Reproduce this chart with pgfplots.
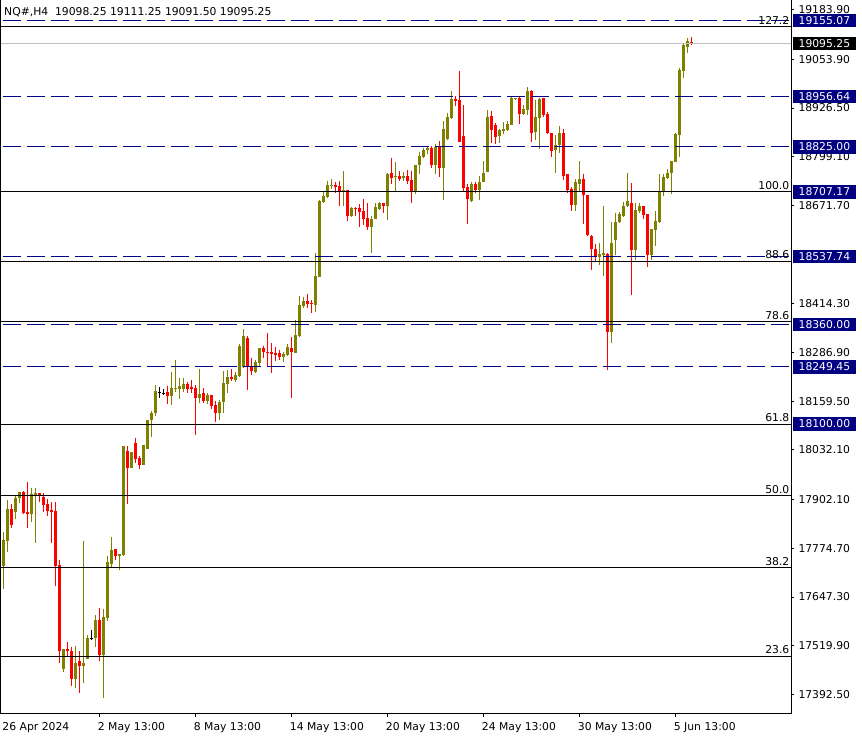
\documentclass[border=0pt]{standalone}
\usepackage{pgfplots}
\pgfplotsset{compat=1.18}
\usepackage{pgfplotstable}
\usepackage{fontspec}
\setmainfont{DejaVu Sans}
\definecolor{mtnavy}{RGB}{0,0,128}
\definecolor{mtolive}{RGB}{128,128,0}
\definecolor{mtred}{RGB}{255,0,0}
\definecolor{mtgrey}{RGB}{192,192,192}

\pgfplotstableread{
i o h l c d
0 17727.4 17818.4 17668.5 17796.8 1
1 17795.0 17900.9 17766.4 17877.5 1
2 17877.5 17890.5 17828.8 17835.8 -1
3 17870.5 17913.9 17851.5 17906.1 1
4 17905.3 17923.0 17892.3 17921.7 1
5 17921.7 17924.0 17864.5 17867.9 -1
6 17869.7 17947.0 17828.8 17865.3 -1
7 17865.3 17932.1 17844.4 17916.5 1
8 17913.9 17932.1 17789.8 17919.1 1
9 17919.1 17920.0 17895.7 17911.3 -1
10 17909.5 17919.1 17870.5 17888.7 -1
11 17890.5 17904.3 17860.1 17873.1 -1
12 17874.9 17895.7 17789.8 17869.7 -1
13 17872.3 17895.7 17675.3 17729.2 -1
14 17730.3 17743.3 17476.1 17506.5 -1
15 17459.7 17511.7 17451.9 17511.7 1
16 17511.7 17529.9 17490.9 17506.5 -1
17 17506.5 17516.9 17415.4 17433.6 -1
18 17433.6 17519.5 17410.2 17475.3 1
19 17480.5 17506.5 17397.2 17467.5 -1
20 17467.5 17792.7 17423.2 17475.3 1
21 17485.7 17548.1 17485.7 17540.3 1
22 17539.5 17561.1 17535.1 17539.5 0
23 17540.3 17600.2 17516.9 17587.2 1
24 17587.2 17618.4 17480.5 17496.1 -1
25 17496.1 17615.8 17384.2 17595.0 1
26 17592.4 17753.7 17585.4 17738.1 1
27 17732.9 17805.7 17722.5 17769.3 1
28 17771.9 17771.9 17743.3 17753.7 -1
29 17753.7 17758.9 17717.3 17758.9 1
30 17758.3 18041.9 17755.0 18041.9 1
31 18028.9 18041.9 17891.8 17985.5 -1
32 17985.5 18026.3 17985.5 18026.3 1
33 18049.7 18062.7 17998.5 18008.9 -1
34 18010.7 18015.9 17982.8 17993.2 -1
35 17993.2 18044.5 17993.2 18044.5 1
36 18034.9 18109.6 18034.9 18109.6 1
37 18109.6 18133.0 18066.1 18127.8 1
38 18127.5 18202.1 18121.5 18186.5 1
39 18183.1 18196.9 18169.1 18183.1 0
40 18180.5 18190.9 18176.1 18180.5 0
41 18183.9 18199.5 18153.5 18174.3 -1
42 18174.3 18236.0 18150.9 18194.3 1
43 18191.7 18267.2 18183.9 18195.1 1
44 18191.7 18220.3 18166.5 18199.5 1
45 18191.7 18220.3 18184.7 18204.7 1
46 18205.5 18209.9 18181.3 18192.5 -1
47 18197.7 18215.1 18180.5 18191.7 -1
48 18194.3 18202.9 18072.0 18168.3 -1
49 18168.3 18243.8 18156.1 18178.7 1
50 18181.3 18194.3 18156.1 18160.5 -1
51 18160.5 18181.3 18152.7 18176.1 1
52 18176.1 18176.1 18138.9 18148.3 -1
53 18150.1 18160.5 18104.0 18129.3 -1
54 18129.3 18163.1 18111.1 18157.9 1
55 18157.9 18238.6 18129.3 18207.3 1
56 18204.7 18241.2 18181.3 18222.9 1
57 18222.2 18243.0 18213.3 18217.0 -1
58 18215.1 18236.0 18210.7 18228.1 1
59 18226.0 18309.3 18222.7 18304.1 1
60 18250.3 18348.3 18246.9 18330.1 1
61 18324.9 18330.1 18187.8 18250.3 -1
62 18250.3 18272.1 18229.4 18239.8 -1
63 18237.3 18266.9 18234.6 18261.7 1
64 18260.7 18298.9 18250.3 18298.9 1
65 18298.9 18304.1 18272.1 18288.5 -1
66 18288.5 18337.9 18250.3 18285.9 -1
67 18288.5 18311.9 18234.6 18284.1 -1
68 18286.7 18301.5 18265.1 18281.5 -1
69 18285.9 18293.7 18267.7 18275.5 -1
70 18275.5 18288.5 18262.5 18284.1 1
71 18280.7 18309.3 18278.1 18301.5 1
72 18298.9 18327.5 18168.8 18288.5 -1
73 18285.9 18371.8 18285.9 18332.7 1
74 18330.1 18434.2 18327.5 18410.8 1
75 18408.2 18431.6 18403.0 18421.2 1
76 18421.2 18439.4 18403.0 18413.4 -1
77 18416.8 18423.8 18390.8 18413.4 -1
78 18411.6 18546.1 18393.4 18486.2 1
79 18485.6 18686.0 18485.6 18683.4 1
80 18680.8 18706.8 18678.2 18696.4 1
81 18694.6 18736.2 18692.0 18725.0 1
82 18723.2 18740.6 18715.4 18725.0 1
83 18725.0 18732.8 18705.0 18719.8 -1
84 18722.4 18735.4 18671.2 18710.2 -1
85 18710.2 18761.5 18671.2 18712.8 1
86 18712.0 18712.0 18632.1 18645.1 -1
87 18645.1 18668.6 18642.5 18666.0 1
88 18666.0 18668.6 18645.1 18663.4 -1
89 18665.2 18676.4 18616.5 18655.6 -1
90 18657.4 18688.6 18621.7 18637.3 -1
91 18639.2 18678.2 18608.7 18616.5 -1
92 18616.5 18645.1 18546.3 18637.3 1
93 18637.3 18679.0 18637.3 18668.6 1
94 18663.4 18681.6 18659.2 18677.4 1
95 18677.4 18679.0 18653.0 18671.2 -1
96 18671.2 18757.0 18634.7 18754.4 1
97 18755.5 18795.3 18728.4 18744.0 -1
98 18745.8 18784.9 18710.2 18748.4 1
99 18748.4 18761.5 18736.2 18741.4 -1
100 18744.0 18758.9 18736.2 18748.4 1
101 18748.4 18764.1 18728.4 18736.2 -1
102 18738.0 18761.5 18679.0 18710.2 -1
103 18710.2 18776.3 18702.4 18776.3 1
104 18777.9 18810.9 18754.4 18800.5 1
105 18798.7 18821.3 18796.1 18816.1 1
106 18816.1 18826.5 18805.7 18821.3 1
107 18821.3 18826.5 18770.0 18777.9 -1
108 18777.9 18831.7 18754.4 18824.7 1
109 18824.7 18839.5 18746.6 18770.0 -1
110 18771.0 18892.6 18685.2 18871.7 1
111 18845.7 18913.4 18843.1 18903.0 1
112 18900.4 18970.6 18897.8 18949.8 1
113 18949.8 18957.6 18931.6 18944.6 -1
114 18947.2 19022.7 18838.7 18838.7 -1
115 18853.5 18934.2 18710.4 18716.4 -1
116 18719.0 18726.8 18622.7 18687.8 -1
117 18682.6 18733.8 18680.0 18727.9 1
118 18727.9 18732.0 18703.4 18711.2 -1
119 18711.2 18747.6 18686.2 18733.8 1
120 18732.0 18788.5 18732.0 18757.3 1
121 18758.0 18921.2 18758.0 18903.0 1
122 18905.6 18918.6 18836.1 18869.9 -1
123 18882.1 18887.4 18833.5 18851.7 -1
124 18854.3 18871.7 18836.1 18869.1 1
125 18866.5 18890.0 18858.7 18871.7 1
126 18869.1 18892.6 18866.5 18884.8 1
127 18882.9 18955.8 18882.9 18953.2 1
128 18949.8 18952.4 18947.2 18952.4 1
129 18952.4 18955.0 18885.5 18911.6 -1
130 18911.6 18934.2 18909.0 18923.8 1
131 18921.2 18981.0 18909.0 18970.6 1
132 18970.6 18973.2 18838.7 18862.1 -1
133 18864.7 18947.2 18843.9 18903.0 1
134 18901.1 18952.4 18820.5 18949.8 1
135 18952.4 18952.4 18903.7 18909.0 -1
136 18910.8 18916.0 18859.5 18862.1 -1
137 18861.3 18861.3 18799.7 18815.3 -1
138 18817.1 18856.9 18755.4 18830.9 1
139 18830.9 18879.5 18810.1 18862.1 1
140 18860.6 18871.7 18739.0 18747.6 -1
141 18754.2 18754.2 18704.8 18711.8 -1
142 18713.6 18718.8 18658.0 18673.6 -1
143 18673.6 18741.2 18658.0 18733.4 1
144 18728.2 18787.3 18710.0 18740.4 1
145 18741.2 18752.7 18624.1 18699.6 -1
146 18699.6 18699.6 18592.9 18595.5 -1
147 18592.9 18595.5 18501.8 18556.5 -1
148 18559.1 18570.5 18525.3 18535.7 -1
149 18535.7 18573.9 18514.9 18543.5 1
150 18540.9 18670.2 18486.2 18546.1 1
151 18544.0 18547.4 18242.2 18341.8 -1
152 18341.8 18627.3 18310.6 18572.6 1
153 18580.1 18652.2 18541.1 18628.8 1
154 18628.8 18654.8 18626.9 18649.6 1
155 18645.1 18680.8 18642.5 18670.4 1
156 18669.6 18756.3 18667.8 18683.4 1
157 18678.2 18730.2 18436.2 18555.9 -1
158 18555.9 18676.9 18529.9 18660.0 1
159 18657.4 18678.2 18652.2 18670.4 1
160 18670.4 18670.4 18636.6 18647.0 -1
161 18649.6 18649.6 18511.7 18542.9 -1
162 18542.9 18610.5 18529.9 18610.5 1
163 18607.9 18657.4 18566.3 18631.4 1
164 18628.8 18753.7 18626.2 18706.8 1
165 18706.8 18753.7 18696.4 18745.8 1
166 18743.2 18766.7 18740.6 18756.3 1
167 18756.3 18787.5 18701.6 18787.5 1
168 18784.9 18860.3 18784.9 18857.7 1
169 18856.6 19031.0 18799.4 19025.8 1
170 19023.2 19096.0 19004.9 19090.8 1
171 19086.4 19109.0 19070.0 19101.2 1
172 19098.25 19111.25 19091.50 19095.25 -1
}\candles

\newcommand{\XR}{196.925}
\newcommand{\tl}[1]{\node[anchor=west, inner sep=0pt, xshift=7.3pt] at (axis cs:\XR,#1) {#1};}
\newcommand{\bx}[2][mtnavy]{\node[fill=#1, text=white, anchor=west, inner sep=0pt, minimum width=63pt, minimum height=13.5pt, xshift=1.7pt] at (axis cs:\XR,#2) {#2};}
\newcommand{\fl}[2]{\node[anchor=south east, inner sep=0pt, xshift=-1.5pt, yshift=2pt] at (axis cs:\XR,#1) {#2};}
\newcommand{\xl}[2]{\node[anchor=base west, inner sep=0pt, xshift=-1.6pt, yshift=-16.3pt] at (axis cs:#1,17341.4) {#2};}
\newcommand{\hl}[2]{\addplot[#1] coordinates {(-0.575,#2) (\XR,#2)};}

\begin{document}
\begin{tikzpicture}[font=\fontsize{10.8}{13}\selectfont]
\begin{axis}[
  at={(1pt,24pt)}, anchor=south west,
  scale only axis, width=790pt, height=714pt,
  xmin=-0.575, xmax=196.925, ymin=17341.4, ymax=19209.2,
  axis line style={draw=none},
  xtick={24,48,72,96,120,144,168}, xticklabels={}, xtick pos=bottom,
  ytick={19183.9,19053.9,18926.5,18799.1,18671.7,18414.3,18286.9,18159.5,18032.1,17902.1,17774.7,17647.3,17519.9,17392.5},
  yticklabels={}, ytick pos=right,
  tick align=outside, major tick length=3pt,
  tick style={black, line width=1pt},
  clip=false,
]
% wicks
\addplot[draw=none, mark=none, restrict expr to domain={\thisrow{d}}{0.5:1.5},
  error bars/.cd, y dir=plus, y explicit, error mark=none,
  error bar style={draw=mtolive, line width=1pt}]
  table[x=i, y=l, y error plus expr={\thisrow{h}-\thisrow{l}}] {\candles};
\addplot[draw=none, mark=none, restrict expr to domain={\thisrow{d}}{-1.5:-0.5},
  error bars/.cd, y dir=plus, y explicit, error mark=none,
  error bar style={draw=mtred, line width=1pt}]
  table[x=i, y=l, y error plus expr={\thisrow{h}-\thisrow{l}}] {\candles};
\addplot[draw=none, mark=none, restrict expr to domain={\thisrow{d}}{-0.5:0.5},
  error bars/.cd, y dir=plus, y explicit, error mark=none,
  error bar style={draw=black, line width=1pt}]
  table[x=i, y=l, y error plus expr={\thisrow{h}-\thisrow{l}}] {\candles};
% bodies
\addplot[draw=none, mark=none, restrict expr to domain={\thisrow{d}}{0.5:1.5},
  error bars/.cd, y dir=plus, y explicit, error mark=none,
  error bar style={draw=mtolive, line width=3pt}]
  table[x=i, y=o, y error plus expr={\thisrow{c}-\thisrow{o}}] {\candles};
\addplot[draw=none, mark=none, restrict expr to domain={\thisrow{d}}{-1.5:-0.5},
  error bars/.cd, y dir=plus, y explicit, error mark=none,
  error bar style={draw=mtred, line width=3pt}]
  table[x=i, y=c, y error plus expr={\thisrow{o}-\thisrow{c}}] {\candles};
\addplot[only marks, mark=-, mark size=1.5pt, black, line width=1pt,
  restrict expr to domain={\thisrow{d}}{-0.5:0.5}]
  table[x=i, y=o] {\candles};

% horizontal lines
\hl{mtgrey, line width=1pt}{19095.25}
\hl{black, line width=1pt}{19139.5}
\hl{black, line width=1pt}{18707.17}
\hl{black, line width=1pt}{18526.0}
\hl{black, line width=1pt}{18367.0}
\hl{black, line width=1pt}{18100.0}
\hl{black, line width=1pt}{17912.4}
\hl{black, line width=1pt}{17724.9}
\hl{black, line width=1pt}{17492.8}
\hl{mtnavy, line width=1pt, dash pattern=on 18pt off 6pt, dash phase=22pt}{19155.07}
\hl{mtnavy, line width=1pt, dash pattern=on 18pt off 6pt, dash phase=22pt}{18956.64}
\hl{mtnavy, line width=1pt, dash pattern=on 18pt off 6pt, dash phase=22pt}{18825.00}
\hl{mtnavy, line width=1pt, dash pattern=on 18pt off 6pt, dash phase=22pt}{18537.74}
\hl{mtnavy, line width=1pt, dash pattern=on 18pt off 6pt, dash phase=22pt}{18360.00}
\hl{mtnavy, line width=1pt, dash pattern=on 18pt off 6pt, dash phase=22pt}{18249.45}

% frame
\draw[black, line width=1pt] (rel axis cs:0,1) -- (rel axis cs:0,0) -- (rel axis cs:1,0) -- (rel axis cs:1,1);

% fib labels
\fl{19139.5}{127.2}
\fl{18707.17}{100.0}
\fl{18526.0}{88.6}
\fl{18367.0}{78.6}
\fl{18100.0}{61.8}
\fl{17912.4}{50.0}
\fl{17724.9}{38.2}
\fl{17492.8}{23.6}

% price scale labels
\tl{19183.90}
\tl{19053.90}
\tl{18926.50}
\tl{18799.10}
\tl{18671.70}
\tl{18414.30}
\tl{18286.90}
\tl{18159.50}
\tl{18032.10}
\tl{17902.10}
\tl{17774.70}
\tl{17647.30}
\tl{17519.90}
\tl{17392.50}
\bx{19155.07}
\bx[black]{19095.25}
\bx{18956.64}
\bx{18825.00}
\bx{18707.17}
\bx{18537.74}
\bx{18360.00}
\bx{18249.45}
\bx{18100.00}

% time labels
\xl{0.15}{26 Apr 2024}
\xl{24}{2 May 13:00}
\xl{48}{8 May 13:00}
\xl{72}{14 May 13:00}
\xl{96}{20 May 13:00}
\xl{120}{24 May 13:00}
\xl{144}{30 May 13:00}
\xl{168}{5 Jun 13:00}

% title
\node[anchor=base west, inner sep=0pt, xshift=3pt, yshift=-16pt] at (rel axis cs:0,1) {NQ\#,H4\ \ 19098.25 19111.25 19091.50 19095.25};
\end{axis}
\pgfresetboundingbox
\path[use as bounding box] (0,0) rectangle (862pt,738pt);
\end{tikzpicture}
\end{document}
